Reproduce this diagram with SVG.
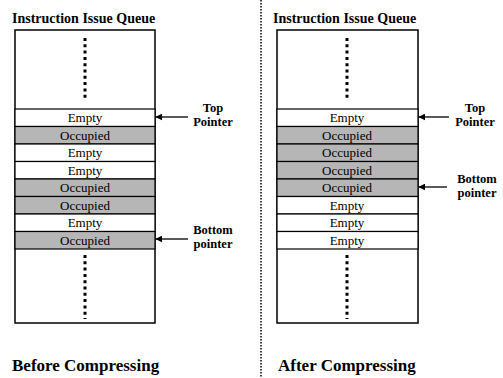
<svg xmlns="http://www.w3.org/2000/svg" width="503" height="378" viewBox="0 0 503 378">
<defs>
<marker id="ah" viewBox="0 0 10 10" refX="9" refY="5" markerWidth="7" markerHeight="7" markerUnits="userSpaceOnUse" orient="auto">
<path d="M0,0 L10,5 L0,10 z" fill="#000"/>
</marker>
</defs>
<style>
.box{fill:#fff;stroke:#000;stroke-width:1.5}
.row{stroke:#000;stroke-width:1.2}
.e{fill:#fff}
.o{fill:#b6b6b6}
.rt{font-family:"Liberation Serif",serif;font-size:13px;text-anchor:middle;fill:#000}
.ttl{font-family:"Liberation Serif",serif;font-size:14px;font-weight:bold;fill:#000}
.cap{font-family:"Liberation Serif",serif;font-size:17px;font-weight:bold;fill:#000}
.lbl{font-family:"Liberation Serif",serif;font-size:12.5px;font-weight:bold;text-anchor:middle;fill:#000}
.dots{stroke:#000;stroke-width:3;stroke-dasharray:3 3.3}
.div{stroke:#000;stroke-width:1.5;stroke-dasharray:1.5 1.5}
.arr{stroke:#000;stroke-width:1.3;fill:none}
</style>
<line class="div" x1="261" y1="0" x2="261" y2="378"/>

<g id="before-queue">
<text class="ttl" x="12" y="23">Instruction Issue Queue</text>
<rect class="box" x="15" y="30" width="140" height="293"/>
<line class="dots" x1="85" y1="38" x2="85" y2="101"/>
<line class="dots" x1="85" y1="255" x2="85" y2="319"/>
<rect class="row e" x="15" y="109" width="140" height="17.5"/><text class="rt" x="85" y="122">Empty</text>
<rect class="row o" x="15" y="126.5" width="140" height="17.5"/><text class="rt" x="85" y="139.5">Occupied</text>
<rect class="row e" x="15" y="144" width="140" height="17.5"/><text class="rt" x="85" y="157">Empty</text>
<rect class="row e" x="15" y="161.5" width="140" height="17.5"/><text class="rt" x="85" y="174.5">Empty</text>
<rect class="row o" x="15" y="179" width="140" height="17.5"/><text class="rt" x="85" y="192">Occupied</text>
<rect class="row o" x="15" y="196.5" width="140" height="17.5"/><text class="rt" x="85" y="209.5">Occupied</text>
<rect class="row e" x="15" y="214" width="140" height="17.5"/><text class="rt" x="85" y="227">Empty</text>
<rect class="row o" x="15" y="231.5" width="140" height="17.5"/><text class="rt" x="85" y="244.5">Occupied</text>
<text class="cap" x="12" y="371">Before Compressing</text>
</g>

<g id="after-queue">
<text class="ttl" x="273" y="23">Instruction Issue Queue</text>
<rect class="box" x="277" y="30" width="141" height="293"/>
<line class="dots" x1="347" y1="38" x2="347" y2="101"/>
<line class="dots" x1="347" y1="255" x2="347" y2="319"/>
<rect class="row e" x="277" y="109" width="141" height="17.5"/><text class="rt" x="347" y="122">Empty</text>
<rect class="row o" x="277" y="126.5" width="141" height="17.5"/><text class="rt" x="347" y="139.5">Occupied</text>
<rect class="row o" x="277" y="144" width="141" height="17.5"/><text class="rt" x="347" y="157">Occupied</text>
<rect class="row o" x="277" y="161.5" width="141" height="17.5"/><text class="rt" x="347" y="174.5">Occupied</text>
<rect class="row o" x="277" y="179" width="141" height="17.5"/><text class="rt" x="347" y="192">Occupied</text>
<rect class="row e" x="277" y="196.5" width="141" height="17.5"/><text class="rt" x="347" y="209.5">Empty</text>
<rect class="row e" x="277" y="214" width="141" height="17.5"/><text class="rt" x="347" y="227">Empty</text>
<rect class="row e" x="277" y="231.5" width="141" height="17.5"/><text class="rt" x="347" y="244.5">Empty</text>
<text class="cap" x="278" y="371">After Compressing</text>
</g>

<g id="before-top-label"><text class="lbl" x="213" y="112">Top</text><text class="lbl" x="213" y="126">Pointer</text></g>
<g id="before-bottom-label"><text class="lbl" x="213" y="234">Bottom</text><text class="lbl" x="213" y="248">pointer</text></g>
<g id="after-top-label"><text class="lbl" x="475" y="112">Top</text><text class="lbl" x="475" y="126">Pointer</text></g>
<g id="after-bottom-label"><text class="lbl" x="477" y="183">Bottom</text><text class="lbl" x="477" y="197">pointer</text></g>

<g id="connectors">
<line class="arr" x1="188" y1="117" x2="156" y2="117" marker-end="url(#ah)"/>
<line class="arr" x1="188" y1="239" x2="156" y2="239" marker-end="url(#ah)"/>
<line class="arr" x1="449" y1="117" x2="419" y2="117" marker-end="url(#ah)"/>
<line class="arr" x1="447" y1="187" x2="419" y2="187" marker-end="url(#ah)"/>
</g>
</svg>
